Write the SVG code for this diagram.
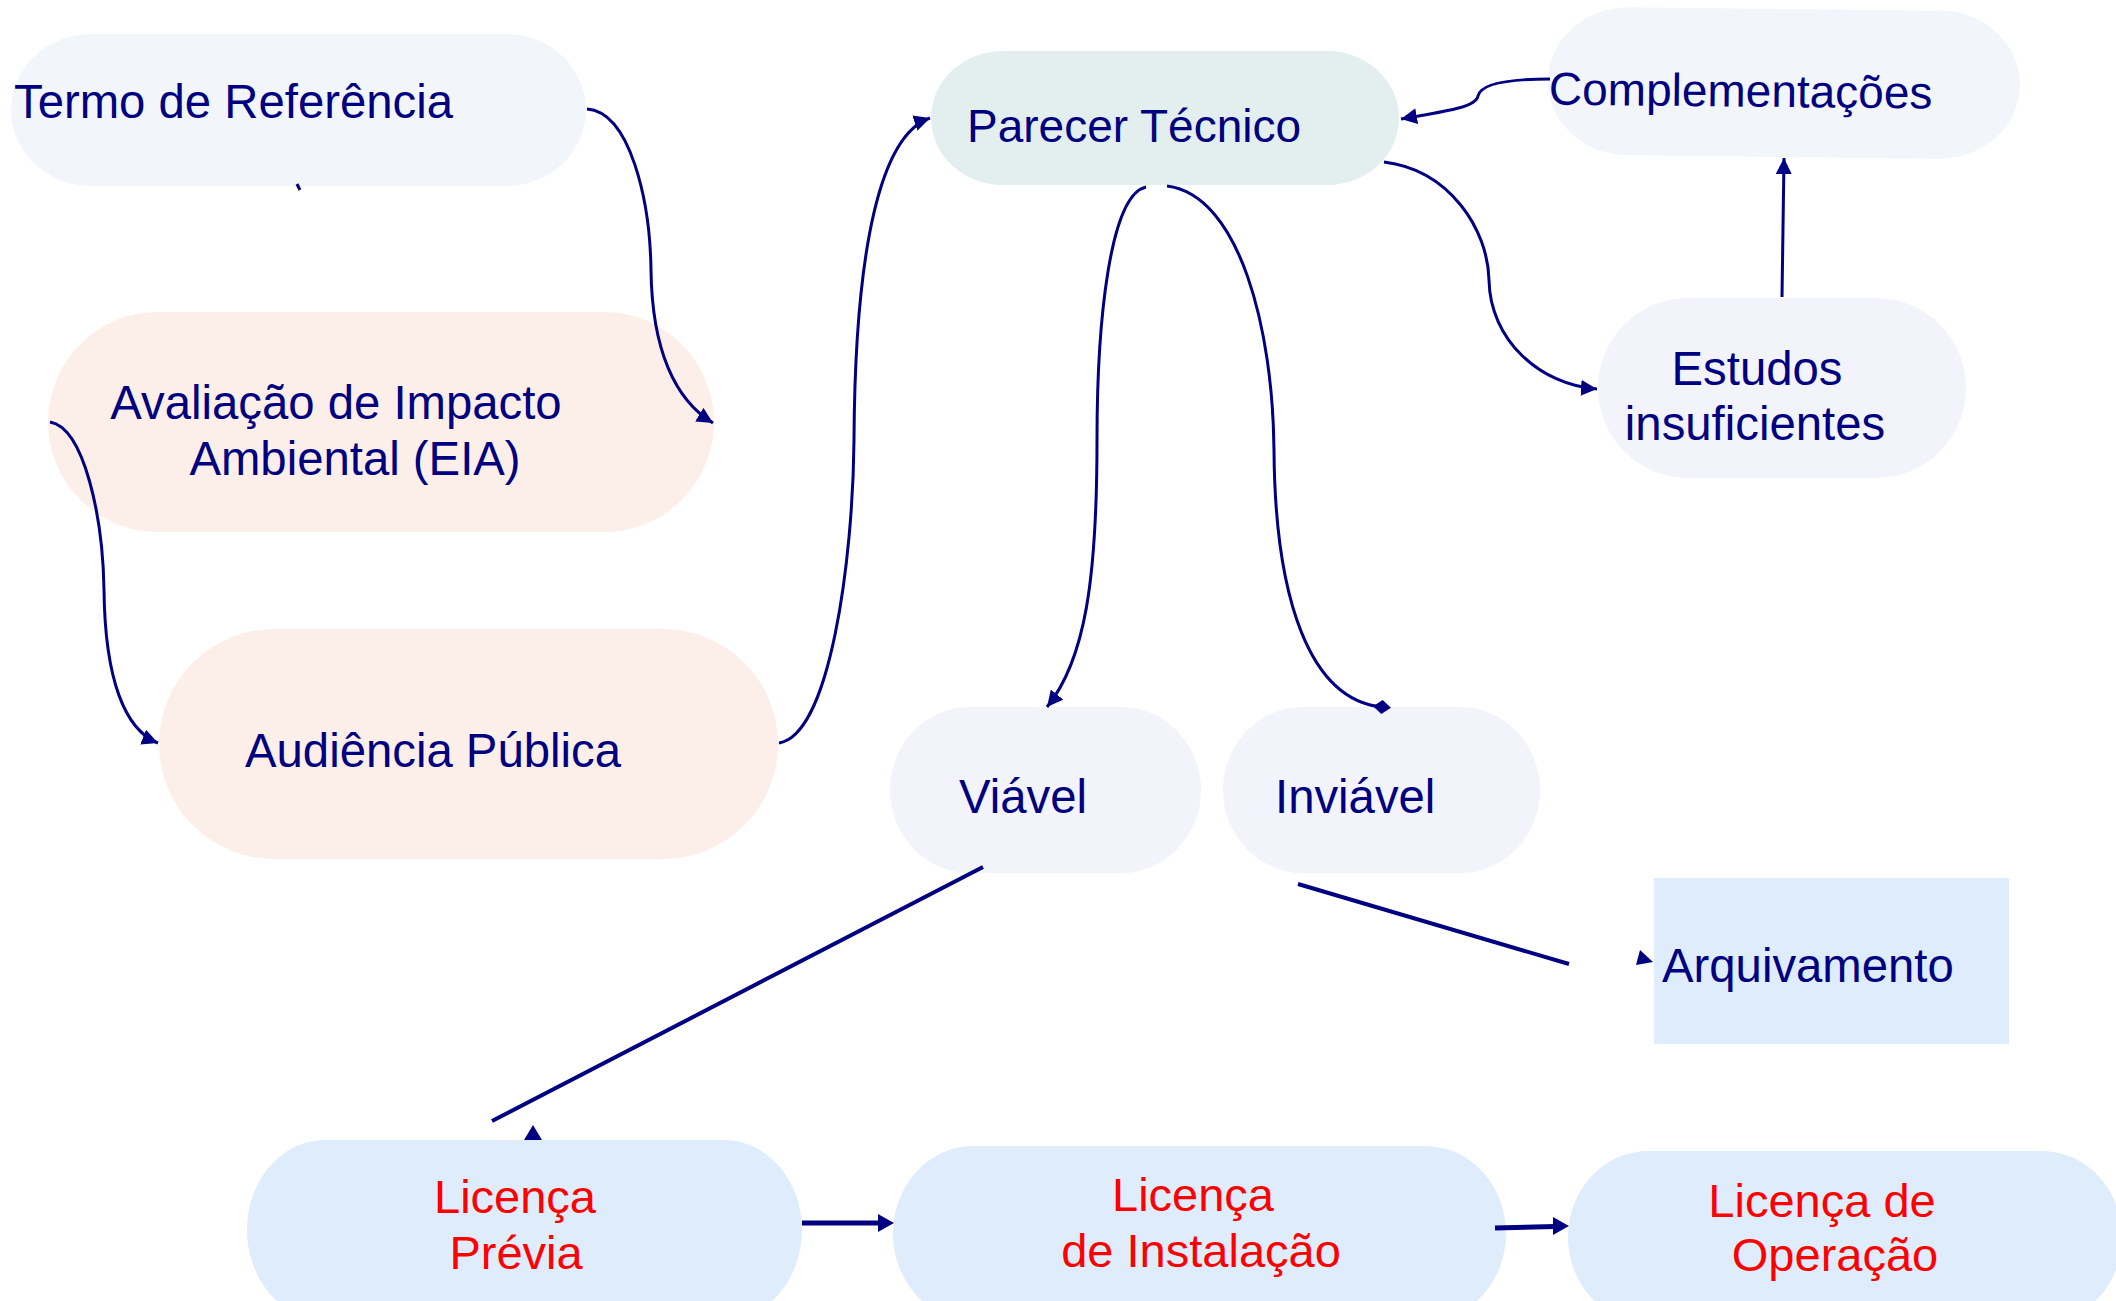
<svg xmlns="http://www.w3.org/2000/svg" width="2116" height="1301" viewBox="0 0 2116 1301">
<defs>
<style>
.t{font-family:"Liberation Sans",Arial,sans-serif;font-size:47.3px;fill:#000080}
.t2{font-size:46px}
.r{font-family:"Liberation Sans",Arial,sans-serif;font-size:47px;fill:#ff0000}
.c{fill:none;stroke:#000080;stroke-width:3}
.s{fill:none;stroke:#000080;stroke-width:4}
.h{fill:none;stroke:#000080;stroke-width:5}
.a{fill:#000080}
</style>
<marker id="arr" markerUnits="userSpaceOnUse" markerWidth="18" markerHeight="16" refX="16" refY="8" orient="auto">
<path d="M0,0 L16,8 L0,16 z" fill="#000080"/>
</marker>
<marker id="dia" markerUnits="userSpaceOnUse" markerWidth="18" markerHeight="14" refX="9" refY="7" orient="auto">
<path d="M0,7 L9,0 L18,7 L9,14 z" fill="#000080"/>
</marker>
</defs>
<rect width="2116" height="1301" fill="#ffffff"/>

<g id="termo">
<rect x="11" y="34" width="575" height="152" rx="80" ry="76" fill="#f2f6fb"/>
<text class="t" x="14" y="118">Termo de Referência</text>
</g>
<g id="avaliacao">
<rect x="48" y="312" width="666" height="220" rx="110" ry="110" fill="#fcefea"/>
<text class="t" x="336" y="419" text-anchor="middle">Avaliação de Impacto</text>
<text class="t" x="355" y="475" text-anchor="middle">Ambiental (EIA)</text>
</g>
<g id="audiencia">
<rect x="159" y="629" width="619" height="230" rx="115" ry="115" fill="#fcefea"/>
<text class="t" x="245" y="767">Audiência Pública</text>
</g>
<g id="parecer">
<rect x="931" y="51" width="468" height="134" rx="72" ry="67" fill="#e3eeee"/>
<text class="t t2" x="967" y="142">Parecer Técnico</text>
</g>
<g id="complementacoes" transform="rotate(0.6 1784 83)">
<rect x="1548" y="9" width="472" height="148" rx="80" ry="74" fill="#f2f6fb"/>
<text class="t t2" x="1549" y="107">Complementações</text>
</g>
<g id="estudos">
<rect x="1598" y="298" width="368" height="180" rx="90" ry="90" fill="#f2f3fb"/>
<text class="t" x="1757" y="385" text-anchor="middle">Estudos</text>
<text class="t" x="1755" y="440" text-anchor="middle">insuficientes</text>
</g>
<g id="viavel">
<rect x="890" y="707" width="311" height="166" rx="80" ry="83" fill="#f2f3fb"/>
<text class="t" x="959" y="813">Viável</text>
</g>
<g id="inviavel">
<rect x="1223" y="707" width="317" height="166" rx="80" ry="83" fill="#f2f3fb"/>
<text class="t" x="1275" y="813">Inviável</text>
</g>
<g id="arquivamento">
<rect x="1654" y="878" width="355" height="166" fill="#deecfc"/>
<text class="t" x="1662" y="982">Arquivamento</text>
</g>
<g id="licenca-previa">
<rect x="247" y="1140" width="555" height="180" rx="78" ry="90" fill="#deecfc"/>
<text class="r" x="515" y="1213" text-anchor="middle">Licença</text>
<text class="r" x="516" y="1269" text-anchor="middle">Prévia</text>
</g>
<g id="licenca-instalacao">
<rect x="893" y="1146" width="613" height="175" rx="80" ry="88" fill="#deecfc"/>
<text class="r" x="1193" y="1211" text-anchor="middle">Licença</text>
<text class="r" x="1201" y="1267" text-anchor="middle">de Instalação</text>
</g>
<g id="licenca-operacao">
<rect x="1568" y="1151" width="554" height="172" rx="80" ry="86" fill="#deecfc"/>
<text class="r" x="1822" y="1217" text-anchor="middle">Licença de</text>
<text class="r" x="1835" y="1271" text-anchor="middle">Operação</text>
</g>

<g id="connectors">
<path class="c" d="M587,109 C630,112 650,200 651,270 C652,350 675,400 713,423" marker-end="url(#arr)"/>
<path class="c" d="M297,184 L300,190"/>
<path class="c" d="M50,422 C85,428 103,520 104,590 C105,680 125,730 158,743" marker-end="url(#arr)"/>
<path class="c" d="M779,743 C830,735 853,560 854,440 C855,250 880,135 930,118" marker-end="url(#arr)"/>
<path class="c" d="M1146,187 C1110,195 1097,320 1097,440 C1097,580 1085,660 1047,707" marker-end="url(#arr)"/>
<path class="c" d="M1167,186 C1240,195 1273,330 1274,450 C1275,600 1310,700 1382,707" marker-end="url(#dia)"/>
<path class="c" d="M1384,162 C1450,170 1488,230 1489,280 C1490,340 1540,385 1597,389" marker-end="url(#arr)"/>
<path class="c" d="M1782,297 L1784,158" marker-end="url(#arr)"/>
<path class="c" d="M1550,79 C1500,79 1480,86 1478,96 C1476,108 1440,112 1401,119" marker-end="url(#arr)"/>
<path class="s" d="M983,867 L492,1121"/>
<polygon class="a" points="533,1125 524,1140 542,1140"/>
<path class="s" d="M1298,884 L1569,964"/>
<polygon class="a" points="1640,950 1636,965 1653,962"/>
<path class="h" d="M802,1223 L880,1223"/>
<polygon class="a" points="878,1214 894,1223 878,1232"/>
<path class="h" d="M1495,1228 L1555,1226.5"/>
<polygon class="a" points="1553,1217 1569,1226 1553,1235"/>
</g>
</svg>
